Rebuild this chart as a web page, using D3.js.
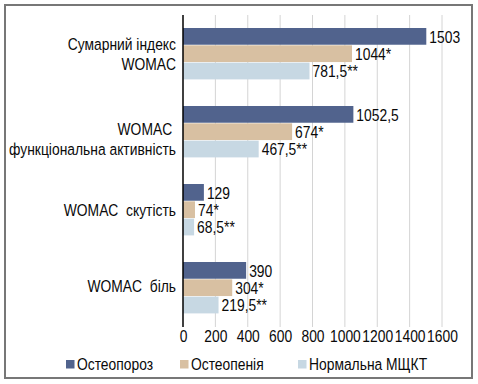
<!DOCTYPE html>
<html>
<head>
<meta charset="utf-8">
<script src="https://cdn.jsdelivr.net/npm/d3@7"></script>
<style>
  body { margin: 0; background: #fff; }
  svg text { font-family: "Liberation Sans", Arial, sans-serif; font-size: 16.5px; fill: #0a0a0a; }
</style>
</head>
<body>
<svg id="chart" width="478" height="384"></svg>
<script>
// categories, top to bottom (lines of each label)
var categories = ["total", "function", "stiffness", "pain"];
var categoryLines = [
  ["Сумарний індекс", "WOMAC"],
  ["WOMAC\u00a0", "функціональна активність"],
  ["WOMAC  скутість"],
  ["WOMAC  біль"]
];
var seriesNames = ["Остеопороз", "Остеопенія", "Нормальна МЩКТ"];
var osteoporosis = [1503, 1052.5, 129, 390];
var osteopenia = [1044, 674, 74, 304];
var normal = [781.5, 467.5, 68.5, 219.5];
var osteoporosisLabels = ["1503", "1052,5", "129", "390"];
var osteopeniaLabels = ["1044*", "674*", "74*", "304*"];
var normalLabels = ["781,5**", "467,5**", "68,5**", "219,5**"];
var ticks = [0, 200, 400, 600, 800, 1000, 1200, 1400, 1600];

var colors = ["#51638d", "#d8c0a2", "#c7d8e3"];
var narrow = " scale(0.84,1)"; // condensed look

var svg = d3.select("#chart");
var plotLeft = 183, plotRight = 442, plotTop = 15, plotBottom = 327;

// frame
svg.append("rect")
  .attr("x", 5).attr("y", 5).attr("width", 467).attr("height", 373)
  .attr("fill", "#fff").attr("stroke", "#777").attr("stroke-width", 2);

var x = d3.scaleLinear().domain([0, 1600]).range([plotLeft, plotRight]);
var y0 = d3.scaleBand().domain(categories).range([plotTop, plotBottom])
  .paddingInner(1 / 3).paddingOuter(1 / 6);
var y1 = d3.scaleBand().domain(seriesNames).range([0, y0.bandwidth()]);

// grid
svg.append("g").selectAll("line").data(ticks.slice(1)).join("line")
  .attr("x1", d => x(d)).attr("x2", d => x(d))
  .attr("y1", plotTop).attr("y2", plotBottom)
  .attr("stroke", "#d4d4d4").attr("stroke-width", 1);

var rows = [];
var values = [osteoporosis, osteopenia, normal];
var labels = [osteoporosisLabels, osteopeniaLabels, normalLabels];
categories.forEach(function(c, i) {
  seriesNames.forEach(function(s, j) {
    rows.push({ cat: c, series: s, j: j, value: values[j][i], label: labels[j][i] });
  });
});

var g = svg.append("g");
g.selectAll("rect").data(rows).join("rect")
  .attr("x", x(0))
  .attr("y", d => y0(d.cat) + y1(d.series))
  .attr("width", d => x(d.value) - x(0))
  .attr("height", y1.bandwidth() - 0.6)
  .attr("fill", d => colors[d.j]);

g.selectAll("text").data(rows).join("text")
  .attr("transform", d => "translate(" + (x(d.value) + 3) + "," +
    (y0(d.cat) + y1(d.series) + y1.bandwidth() / 2) + ")" + narrow)
  .attr("dy", "0.36em")
  .text(d => d.label);

// y axis line
svg.append("line")
  .attr("x1", x(0)).attr("x2", x(0)).attr("y1", plotTop).attr("y2", plotBottom)
  .attr("stroke", "#000").attr("stroke-width", 1.5);

// x tick labels
var xAxis = d3.axisBottom(x).tickValues(ticks).tickFormat(d3.format("d")).tickSize(0).tickPadding(0);
var ax = svg.append("g").attr("transform", "translate(0," + 330 + ")").call(xAxis);
ax.attr("font-size", null).attr("font-family", null);
ax.select(".domain").remove();
ax.selectAll("text").attr("dy", "0.71em").attr("transform", narrow).style("fill", "#0a0a0a");

// category labels
var labelShift = [0, 7, 0, -2];
categories.forEach(function(c, i) {
  var lines = categoryLines[i];
  var cy = y0(c) + y0.bandwidth() / 2 + labelShift[i];
  var t = svg.append("text")
    .attr("text-anchor", "end")
    .attr("transform", "translate(176," + cy + ")" + narrow)
    .style("white-space", "pre");
  lines.forEach(function(line, k) {
    t.append("tspan")
      .attr("x", 0)
      .attr("y", (k - (lines.length - 1) / 2) * 20)
      .attr("dy", "0.36em")
      .text(line);
  });
});

// legend
var legendX = [66, 180, 298];
var lg = svg.append("g").selectAll("g").data(seriesNames).join("g")
  .attr("transform", (d, i) => "translate(" + legendX[i] + ",360)");
lg.append("rect").attr("width", 8.5).attr("height", 8.5).attr("fill", (d, i) => colors[i]);
lg.append("text").attr("transform", "translate(11,4.5)" + narrow).attr("dy", "0.36em")
  .text(d => d);
</script>
</body>
</html>
